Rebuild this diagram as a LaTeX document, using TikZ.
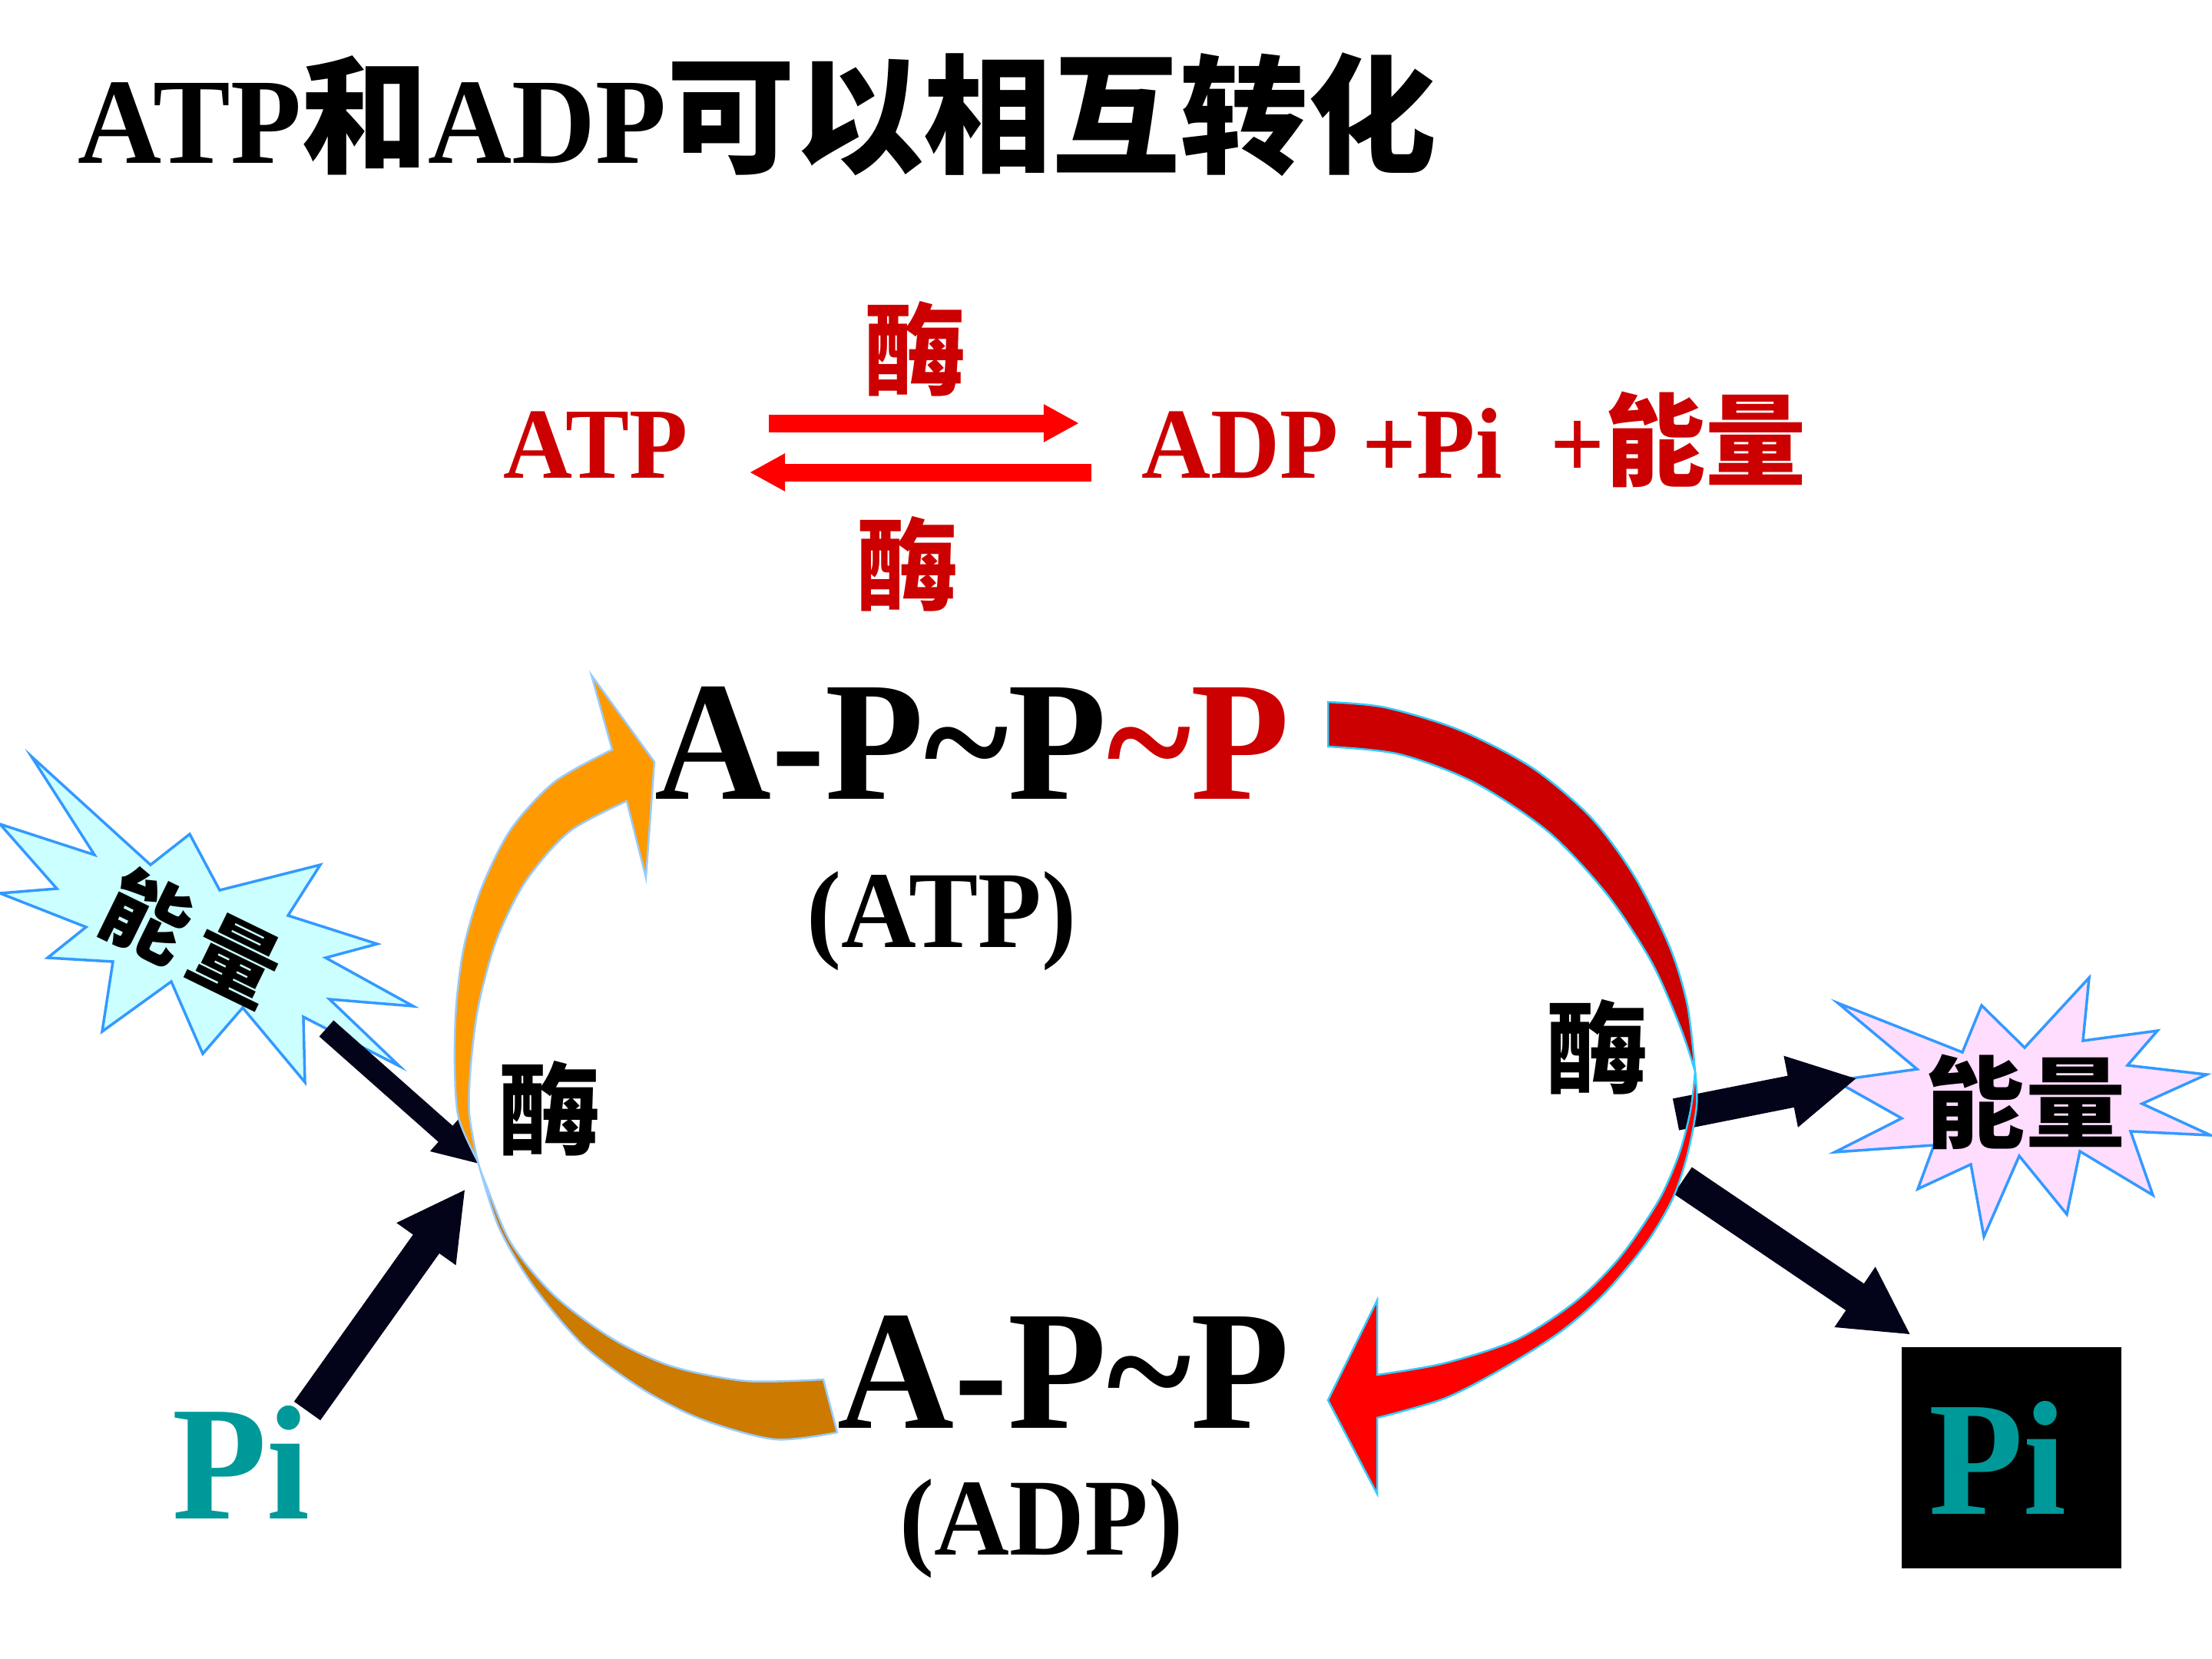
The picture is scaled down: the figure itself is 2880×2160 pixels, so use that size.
\documentclass[tikz,border=0pt]{standalone}
\usepackage{fontspec}
\setmainfont{Liberation Serif}[FakeStretch=0.95]
\newfontfamily\cjk{Noto Sans CJK SC}
\usepackage{tikz}
\usetikzlibrary{arrows.meta}
\definecolor{eqred}{HTML}{CC0000}
\definecolor{arrowred}{HTML}{FF0000}
\definecolor{ribbonorange}{HTML}{FF9900}
\definecolor{ribbonbrown}{HTML}{CC7A00}
\definecolor{ribbonedge}{HTML}{33CCFF}
\definecolor{orangeedge}{HTML}{99CCFF}
\definecolor{burstedge}{HTML}{3399FF}
\definecolor{burstcyan}{HTML}{CCFFFF}
\definecolor{burstpink}{HTML}{FFDDFF}
\definecolor{piteal}{HTML}{009999}
\definecolor{arrowblack}{HTML}{03031A}

\tikzset{
  fatarrow/.style={draw=arrowblack, line width=4.2mm, -{Triangle[length=8.8mm, width=8.8mm]}},
  thinarrow/.style={draw=arrowblack, line width=2.8mm, -{Triangle[length=6mm, width=5.6mm]}},
  eqarrow/.style={draw=arrowred, line width=2.3mm, -{Triangle[length=4.6mm, width=4.6mm]}},
  formula/.style={font=\bfseries\fontsize{63}{70}\selectfont, inner sep=0pt},
  formulaname/.style={font=\bfseries\fontsize{40.5}{45}\selectfont, inner sep=0pt},
  redtext/.style={text=eqred, font=\bfseries\fontsize{37.3}{42}\selectfont, inner sep=0pt},
  enzyme/.style={font=\cjk\bfseries\fontsize{37.6}{42}\selectfont, inner sep=0pt},
  burstlabel/.style={font=\cjk\bfseries\fontsize{32}{40}\selectfont, inner sep=0pt},
  pitext/.style={text=piteal, font=\bfseries\fontsize{60.3}{68}\selectfont, inner sep=0pt},
  ribbon/.style={line width=0.25mm},
  burst/.style={draw=burstedge, line width=0.35mm}
}

\begin{document}
\begin{tikzpicture}[x=0.01cm, y=-0.01cm]
  \fill[white] (0,0) rectangle (2880,2160);
  \useasboundingbox (0,0) rectangle (2880,2160);

  % title
  \node[anchor=base west, inner sep=0pt, font=\bfseries\fontsize{45.2}{50}\selectfont] (title) at (101,212)
    {ATP{\cjk\fontsize{47}{50}\selectfont 和}ADP{\cjk\fontsize{47.5}{50}\selectfont 可以相互转化}};

  % reaction line
  \node[redtext, anchor=base west] (atp) at (655,622) {ATP};
  \node[redtext, anchor=base west] (products) at (1486,622) {ADP +Pi\ \ +{\cjk 能量}};
  \node[enzyme, text=eqred] (enzTop) at (1192,454) {酶};
  \node[enzyme, text=eqred] (enzBot) at (1182,734) {酶};
  \coordinate (fwdS) at (1001,551);
  \coordinate (fwdE) at (1405,551);
  \coordinate (revS) at (1421,615);
  \coordinate (revE) at (976,615);
  \draw[eqarrow] (fwdS) -- (fwdE);
  \draw[eqarrow] (revS) -- (revE);

  % energy bursts
  \filldraw[burst, fill=burstcyan] (41,985) -- (123,1113) -- (0,1073) -- (74,1157) -- (0,1163)
    -- (112,1207) -- (62,1247) -- (147,1252) -- (133,1343) -- (223,1278) -- (264,1372)
    -- (316,1312) -- (397,1409) -- (395,1324) -- (520,1388) -- (429,1301) -- (538,1310)
    -- (424,1247) -- (491,1229) -- (375,1192) -- (417,1126) -- (286,1159) -- (247,1086)
    -- (196,1126) -- cycle;
  \filldraw[burst, fill=burstpink] (2393,1306) -- (2555,1370) -- (2580,1309) -- (2636,1364)
    -- (2720,1273) -- (2712,1355) -- (2809,1342) -- (2770,1387) -- (2873,1399) -- (2789,1437)
    -- (2878,1478) -- (2774,1473) -- (2803,1556) -- (2708,1499) -- (2691,1581) -- (2629,1505)
    -- (2583,1610) -- (2566,1516) -- (2497,1548) -- (2518,1491) -- (2389,1500) -- (2476,1456)
    -- (2389,1407) -- (2496,1392) -- cycle;
  \node[burstlabel, rotate=-26] (energyIn) at (250,1221) {能\hspace{0.15em}量};
  \node[burstlabel, font=\cjk\bfseries\fontsize{37}{42}\selectfont] (energyOut) at (2637,1435) {能量};

  % black arrows in and out
  \coordinate (inE) at (425,1339);
  \coordinate (inEtip) at (625,1516);
  \coordinate (inPi) at (400,1837);
  \coordinate (inPitip) at (606,1548);
  \coordinate (outE) at (2182,1451);
  \coordinate (outEtip) at (2418,1404);
  \coordinate (outPi) at (2191,1537);
  \coordinate (outPitip) at (2488,1738);
  \draw[thinarrow] (inE) -- (inEtip);
  \draw[fatarrow] (inPi) -- (inPitip);
  \draw[fatarrow] (outE) -- (outEtip);
  \draw[fatarrow] (outPi) -- (outPitip);

  % red ribbon, ATP -> ADP
  \filldraw[ribbon, fill=eqred, draw=ribbonedge]
    plot[smooth] coordinates {(1729,914) (1803,921) (1899,950) (1994,999) (2071,1064)
      (2128,1141) (2174,1233) (2197,1309) (2207,1395)}
    -- plot[smooth] coordinates {(2207,1395) (2188,1338) (2150,1252) (2092,1164) (2016,1083)
      (1920,1019) (1822,982) (1729,972)} -- cycle;
  \filldraw[ribbon, fill=arrowred, draw=ribbonedge]
    plot[smooth] coordinates {(2207,1395) (2209,1440) (2197,1503) (2178,1560) (2144,1618)
      (2090,1683) (2033,1733) (1956,1782) (1880,1821) (1793,1846)}
    -- (1793,1945) -- (1729,1823) -- (1793,1693) -- (1793,1790)
    -- plot[smooth] coordinates {(1793,1790) (1880,1775) (1975,1744) (2052,1694) (2109,1637)
      (2159,1564) (2186,1503) (2201,1446) (2207,1395)} -- cycle;

  % orange ribbon, ADP -> ATP
  \filldraw[ribbon, fill=ribbonorange, draw=orangeedge]
    plot[smooth] coordinates {(797,976) (722,1018) (665,1080) (627,1156) (604,1233)
      (594,1309) (592,1386) (597,1455) (622,1512)}
    -- plot[smooth] coordinates {(622,1512) (611,1450) (613,1386) (623,1309) (646,1225)
      (684,1148) (741,1083) (816,1043)}
    -- (841,1143) -- (852,992) -- (770,879) -- cycle;
  \filldraw[ribbon, fill=ribbonbrown, draw=orangeedge]
    plot[smooth] coordinates {(622,1512) (650,1599) (695,1675) (760,1752) (837,1809)
      (914,1848) (1009,1874) (1090,1865)}
    -- (1072,1796)
    -- plot[smooth] coordinates {(1072,1796) (971,1798) (875,1779) (799,1744) (722,1687)
      (665,1618) (630,1535) (622,1512)} -- cycle;

  % cycle labels
  \node[formula, anchor=base west] (atpF) at (852,1040)
    {A-P\textasciitilde P\textcolor{eqred}{\textasciitilde P}};
  \node[formulaname, anchor=base] (atpName) at (1226,1233) {(ATP)};
  \node[formula, anchor=base west] (adpF) at (1090,1859) {A-P\textasciitilde P};
  \node[formulaname, anchor=base] (adpName) at (1356,2024) {(ADP)};
  \node[enzyme] (enzL) at (716,1443) {酶};
  \node[enzyme] (enzR) at (2080,1363) {酶};

  % phosphate
  \node[pitext, anchor=base west] (piIn) at (224,1977) {Pi};
  \node[pitext, fill=black, minimum width=2.86cm, minimum height=2.88cm] (piOut) at (2619,1898) {Pi\rule{0.17em}{0pt}};
\end{tikzpicture}
\end{document}
